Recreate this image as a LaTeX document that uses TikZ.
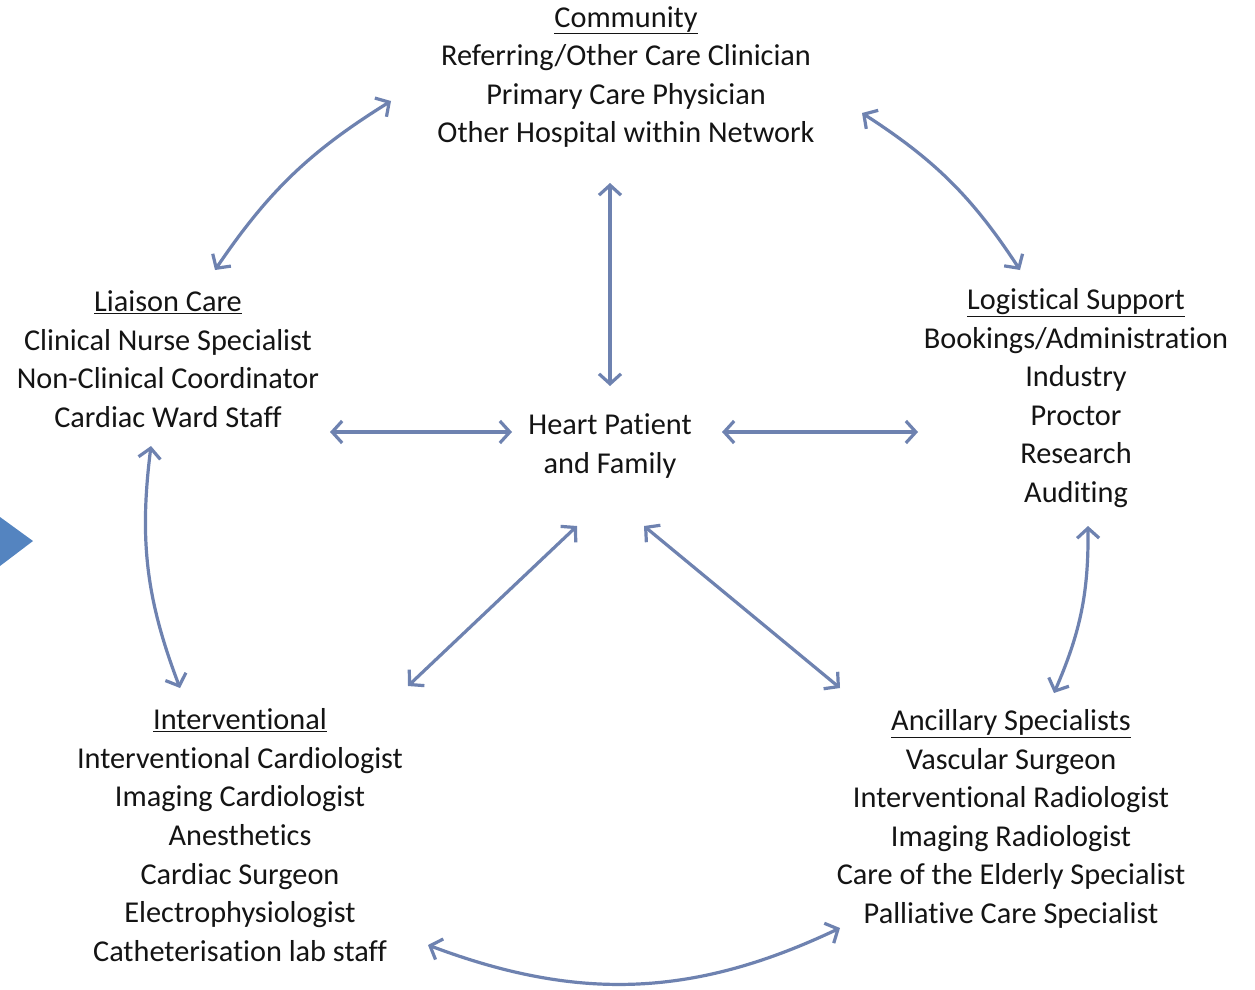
\documentclass[tikz,border=0pt]{standalone}
\usepackage{fontspec}
\setmainfont{Carlito}[Ligatures=NoCommon]
\usetikzlibrary{arrows.meta}
\definecolor{arrowc}{RGB}{110,130,176}
\definecolor{tipblue}{RGB}{84,132,192}
\begin{document}
\begin{tikzpicture}[x=1pt,y=-1pt,
  lbl/.style={align=center, inner sep=0pt, font=\fontsize{30.3}{38.6}\selectfont, text=black!92},
  link/.style={draw=arrowc, line width=3.2pt, {Straight Barb[length=10pt,width=22pt]}-{Straight Barb[length=10pt,width=22pt]}}]
\useasboundingbox (0,0) rectangle (1255,990);
\fill[white] (0,0) rectangle (1255,990);
% partial arrow at left edge
\fill[tipblue] (0,517) -- (33,541) -- (0,566) -- cycle;

\node[lbl] (comm) at (626,77) {\underline{Community}\\Referring/Other Care Clinician\\Primary Care Physician\\Other Hospital within Network};
\node[lbl] (liai) at (168,359) {\underline{Liaison Care}\\Clinical Nurse Specialist\\Non-Clinical Coordinator\\Cardiac Ward Staff};
\node[lbl] (logi) at (1076,398) {\underline{Logistical Support}\\Bookings/Administration\\Industry\\Proctor\\Research\\Auditing};
\node[lbl] (heart) at (610,446) {Heart Patient\\and Family};
\node[lbl] (inter) at (240,835) {\underline{Interventional}\\Interventional Cardiologist\\Imaging Cardiologist\\Anesthetics\\Cardiac Surgeon\\Electrophysiologist\\Catheterisation lab staff};
\node[lbl] (anci) at (1011,819) {\underline{Ancillary Specialists}\\Vascular Surgeon\\Interventional Radiologist\\Imaging Radiologist\\Care of the Elderly Specialist\\Palliative Care Specialist};

% connector end points
\coordinate (commL) at (391,101);
\coordinate (liaiT) at (215,270);
\coordinate (commR) at (862,113);
\coordinate (logiT) at (1020,270);
\coordinate (commB) at (610,183);
\coordinate (heartT) at (610,386);
\coordinate (liaiR) at (330,432);
\coordinate (heartL) at (512,432);
\coordinate (heartR) at (722,432);
\coordinate (logiL) at (918,432);
\coordinate (liaiB) at (151,446);
\coordinate (interT) at (180,688);
\coordinate (heartBL) at (577,526);
\coordinate (interTR) at (408,686);
\coordinate (heartBR) at (644,526);
\coordinate (anciTL) at (840,688);
\coordinate (logiB) at (1088,526);
\coordinate (anciT) at (1054,693);
\coordinate (interBR) at (428,945);
\coordinate (anciBL) at (840,928);

\draw[link] (commL) to[bend right=12] (liaiT);
\draw[link] (commR) to[bend left=12] (logiT);
\draw[link] (commB) -- (heartT);
\draw[link] (liaiR) -- (heartL);
\draw[link] (heartR) -- (logiL);
\draw[link] (liaiB) to[bend right=14] (interT);
\draw[link] (heartBL) -- (interTR);
\draw[link] (heartBR) -- (anciTL);
\draw[link] (logiB) to[bend left=12] (anciT);
\draw[link] (interBR) to[bend right=23] (anciBL);
\end{tikzpicture}
\end{document}
